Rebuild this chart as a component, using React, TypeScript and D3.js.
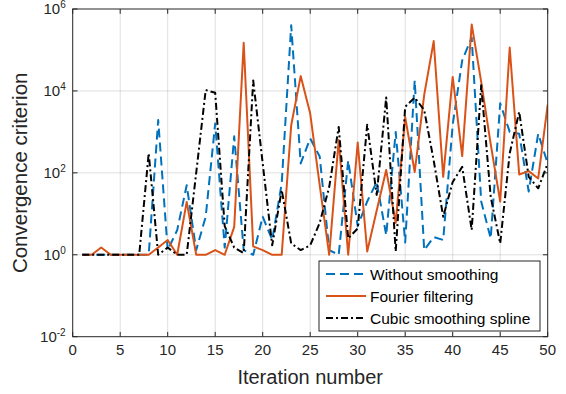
import * as d3 from "d3";

const iterations = [
  1, 2, 3, 4, 5, 6, 7, 8, 9, 10, 11, 12, 13, 14, 15, 16, 17, 18, 19, 20, 21, 22, 23, 24, 25,
  26, 27, 28, 29, 30, 31, 32, 33, 34, 35, 36, 37, 38, 39, 40, 41, 42, 43, 44, 45, 46, 47, 48, 49, 50,
];

const withoutSmoothing = [
  1, 1, 1, 1, 1, 1, 1, 1, 1940, 1.3, 4, 50, 1.3, 8.5, 1600, 1.5, 780, 1.3, 1, 8.5, 2.3, 55, 4e5, 170, 690,
  250, 1.3, 1, 200, 5, 20, 60, 3, 1000, 2, 1.8e4, 1.3, 2.7, 2.3, 1500, 5.6e4, 2e5, 20, 2.5, 5000, 1000, 900, 35, 900, 170,
];

const fourierFiltering = [
  1, 1, 1.5, 1, 1, 1, 1, 1, 1.5, 2.3, 1, 19.5, 1, 1, 1.3, 1, 4.8, 1.5e5, 1.6, 1.3, 1, 1, 1450, 2.3e4, 2800,
  50, 1, 630, 1, 550, 1.2, 12, 117, 6, 2300, 105, 8000, 1.65e5, 80, 2.2e4, 257, 4.2e5, 1.66e4, 500, 20, 1.15e5, 91, 110, 73, 4650,
];

const cubicSpline = [
  1, 1, 1, 1, 1, 1, 1, 300, 1, 1.5, 1, 1, 100, 1.05e4, 9000, 5, 1.5, 1.1, 1.8e4, 170, 1.7, 38, 1.9, 1.3, 1.7,
  6, 45, 1320, 2.5, 4.4, 1500, 29, 6900, 1.2, 4100, 6900, 3400, 200, 8.5, 60, 140, 4, 1.38e4, 26, 1.9, 300, 3100, 80, 42, 170,
];

const xTicks = [0, 5, 10, 15, 20, 25, 30, 35, 40, 45, 50];
const yTicks = [1e-2, 1, 1e2, 1e4, 1e6];
const yTickExp = ["-2", "0", "2", "4", "6"];

const seriesNames = ["Without smoothing", "Fourier filtering", "Cubic smoothing spline"];

const width = 566;
const height = 394;
const margin = { top: 9, right: 18.3, bottom: 57.3, left: 72.7 };
const axisColor = "#262626";
const font = "Arial, 'Liberation Sans', Helvetica, sans-serif";

const styles = [
  { color: "#0072BD", dash: "9,5" },
  { color: "#D95319", dash: "none" },
  { color: "#000000", dash: "7,3,2,3" },
];

export default function App() {
  const x = d3
    .scaleLinear()
    .domain([0, 50])
    .range([margin.left, width - margin.right]);
  const y = d3
    .scaleLog()
    .domain([1e-2, 1e6])
    .range([height - margin.bottom, margin.top]);

  const x0 = x.range()[0];
  const x1 = x.range()[1];
  const y0 = y.range()[0];
  const y1 = y.range()[1];
  const tick = 4.8;

  const line = d3
    .line<number>()
    .x((_, i) => x(iterations[i]))
    .y((d) => y(d));

  const series = [withoutSmoothing, fourierFiltering, cubicSpline];

  const legend = { x: 319, y: 261, w: 221, h: 70 };

  return (
    <svg
      width={width}
      height={height}
      style={{ position: "absolute", left: 0, top: 0, background: "#fff" }}
      fontFamily={font}
    >
      <defs>
        <clipPath id="plot">
          <rect x={x0} y={y1} width={x1 - x0} height={y0 - y1} />
        </clipPath>
      </defs>

      {/* grid */}
      <g stroke={axisColor} strokeOpacity={0.15} strokeWidth={1}>
        {xTicks.slice(1, -1).map((t) => (
          <line key={"gx" + t} x1={x(t)} x2={x(t)} y1={y0} y2={y1} />
        ))}
        {yTicks.slice(1, -1).map((t) => (
          <line key={"gy" + t} x1={x0} x2={x1} y1={y(t)} y2={y(t)} />
        ))}
      </g>

      {/* series */}
      <g clipPath="url(#plot)" fill="none">
        {series.map((s, k) => (
          <path
            key={k}
            d={line(s) ?? ""}
            stroke={styles[k].color}
            strokeWidth={2}
            strokeDasharray={styles[k].dash}
            strokeLinejoin="round"
          />
        ))}
      </g>

      {/* box and ticks */}
      <g stroke={axisColor} strokeWidth={1} fill="none">
        <rect x={x0} y={y1} width={x1 - x0} height={y0 - y1} />
        {xTicks.map((t) => (
          <g key={"tx" + t}>
            <line x1={x(t)} x2={x(t)} y1={y0} y2={y0 - tick} />
            <line x1={x(t)} x2={x(t)} y1={y1} y2={y1 + tick} />
          </g>
        ))}
        {yTicks.map((t) => (
          <g key={"ty" + t}>
            <line x1={x0} x2={x0 + tick} y1={y(t)} y2={y(t)} />
            <line x1={x1} x2={x1 - tick} y1={y(t)} y2={y(t)} />
          </g>
        ))}
      </g>

      {/* tick labels */}
      <g fill={axisColor} fontSize={15}>
        {xTicks.map((t) => (
          <text key={"lx" + t} x={x(t)} y={y0 + 18} textAnchor="middle">
            {t}
          </text>
        ))}
        {yTicks.map((t, i) => (
          <text key={"ly" + t} x={x0 - 7} y={y(t) + 5} textAnchor="end">
            10
            <tspan fontSize={10} dy={-6}>
              {yTickExp[i]}
            </tspan>
          </text>
        ))}
      </g>

      {/* axis labels */}
      <text
        x={(x0 + x1) / 2}
        y={y0 + 47}
        textAnchor="middle"
        fontSize={20}
        fill={axisColor}
      >
        Iteration number
      </text>
      <text
        transform={`translate(${27},${(y0 + y1) / 2}) rotate(-90)`}
        textAnchor="middle"
        fontSize={20.5}
        fill={axisColor}
      >
        Convergence criterion
      </text>

      {/* legend */}
      <g>
        <rect
          x={legend.x}
          y={legend.y}
          width={legend.w}
          height={legend.h}
          fill="#fff"
          stroke={axisColor}
          strokeWidth={1}
        />
        {seriesNames.map((name, k) => {
          const cy = legend.y + 13 + k * 22;
          return (
            <g key={name}>
              <line
                x1={legend.x + 7}
                x2={legend.x + 47}
                y1={cy}
                y2={cy}
                stroke={styles[k].color}
                strokeWidth={2}
                strokeDasharray={styles[k].dash}
              />
              <text x={legend.x + 51} y={cy + 5.5} fontSize={15.5} fill="#000">
                {name}
              </text>
            </g>
          );
        })}
      </g>
    </svg>
  );
}
